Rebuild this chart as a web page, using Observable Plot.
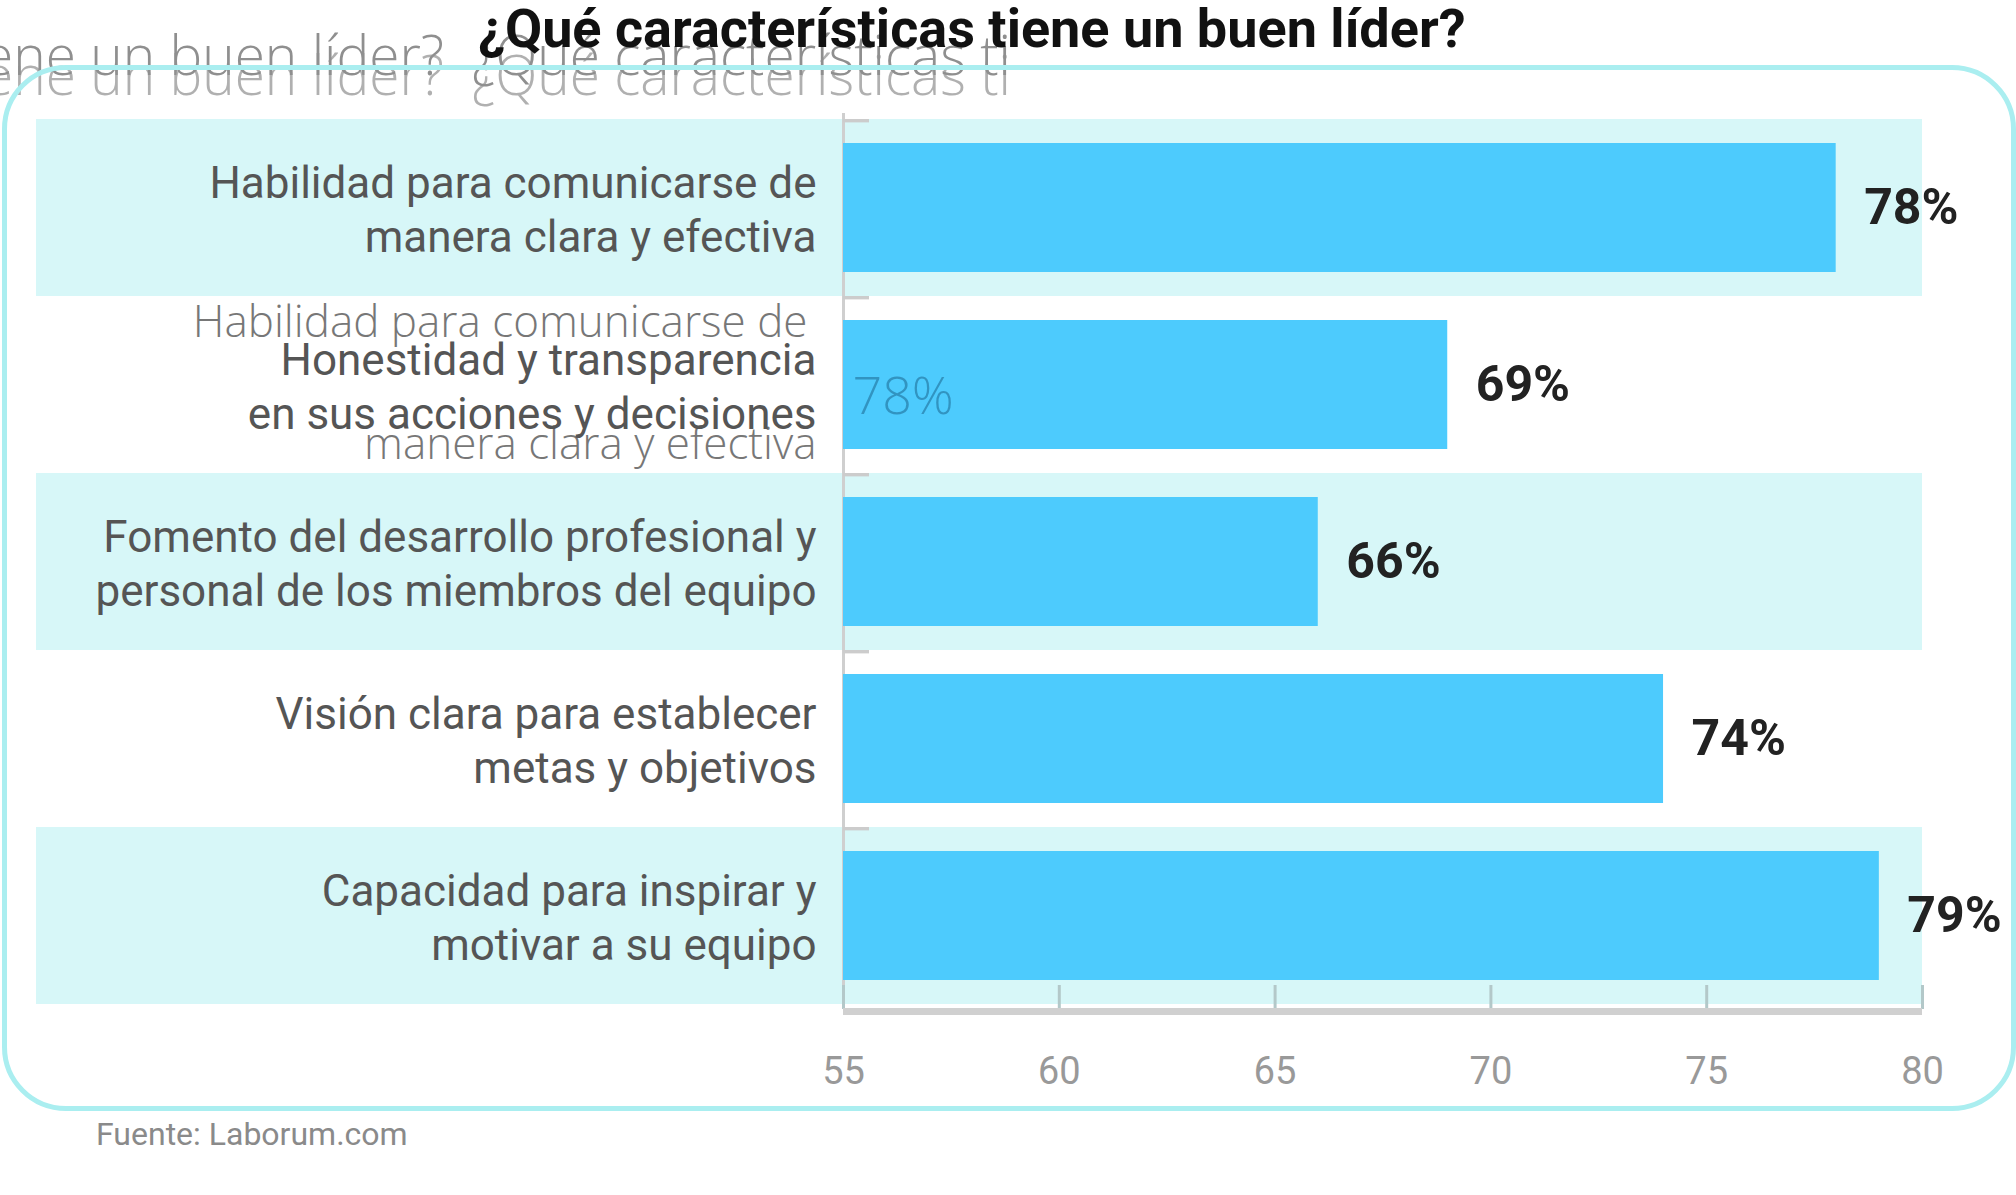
<!DOCTYPE html>
<html>
<head>
<meta charset="utf-8">
<script src="https://cdn.jsdelivr.net/npm/d3@7"></script>
<script src="https://cdn.jsdelivr.net/npm/@observablehq/plot@0.6"></script>
<style>
  html, body { margin: 0; padding: 0; background: #fff; }
  #page { position: relative; width: 2016px; height: 1195px; overflow: hidden; background: #fff; }
  #title { position: absolute; left: 478px; top: 0px; font-family: Roboto, "Open Sans", sans-serif; font-weight: 700; font-size: 54px; line-height: 58px; color: #111; white-space: nowrap; z-index: 3; }
  .ghost { position: absolute; font-family: "Open Sans", sans-serif; font-weight: 300; font-size: 55px; line-height: 60px; color: #8f8f8f; white-space: nowrap; text-shadow: 0 20px 0 rgba(150,150,150,0.75); }
  #ghostclip { position: absolute; left: 0; top: 0; width: 1010px; height: 112px; overflow: hidden; z-index: 1; }
  #frame { position: absolute; left: 2px; top: 65px; width: 2004px; height: 1036px; border: 5px solid #aaeef0; border-radius: 64px; z-index: 2; pointer-events: none; }
  #chart { position: absolute; left: 0; top: 70px; z-index: 0; }
  #source { position: absolute; left: 96px; top: 1115px; font-family: Roboto, sans-serif; font-size: 32px; color: #8a8a8a; }
</style>
</head>
<body>
<div id="page">
  <div id="ghostclip">
    <div class="ghost" id="g1" style="right:566px; top:24px;"></div>
    <div class="ghost" id="g2" style="left:472px; top:24px;"></div>
  </div>
  <div id="title"></div>
  <div id="frame"></div>
  <div id="chart"></div>
  <div id="source"></div>
</div>
<script>
const titleText = "¿Qué características tiene un buen líder?";
const sourceText = "Fuente: Laborum.com";
const categories = [
  "Habilidad para comunicarse de manera clara y efectiva",
  "Honestidad y transparencia en sus acciones y decisiones",
  "Fomento del desarrollo profesional y personal de los miembros del equipo",
  "Visión clara para establecer metas y objetivos",
  "Capacidad para inspirar y motivar a su equipo"
];
const labelLines = [
  "Habilidad para comunicarse de\nmanera clara y efectiva",
  "Honestidad y transparencia\nen sus acciones y decisiones",
  "Fomento del desarrollo profesional y\npersonal de los miembros del equipo",
  "Visión clara para establecer\nmetas y objetivos",
  "Capacidad para inspirar y\nmotivar a su equipo"
];
const values = [78, 69, 66, 74, 79];
const xTicks = [55, 60, 65, 70, 75, 80];
const shaded = [true, false, true, false, true];

document.getElementById("title").textContent = titleText;
document.getElementById("source").textContent = sourceText;
// blurred trailing copy of the title (as in the reference)
document.getElementById("g1").textContent = "tiene un buen líder?";
document.getElementById("g2").textContent = "¿Qué características ti";

const xMin = xTicks[0], xMax = xTicks[xTicks.length - 1];
const data = categories.map((c, i) => ({cat: c, label: labelLines[i], value: values[i], shaded: shaded[i]}));

const W = 2016, H = 1030;
const mT = 47, mB = 91, mL = 843, mR = 94;
const bandBottom = 935;
const frameH = H - mB - mT;
const bandH = (bandBottom - mT) / categories.length;
const labelFont = "Roboto, sans-serif";
const thinFont = "'Open Sans', sans-serif";

// ghost copy of the first row's label drawn over the second row
const ghost = [data[0]].map(d => ({...d, cat: categories[1]}));
const ghostL1 = ghost.map(d => ({...d, t: d.label.split("\n")[0]}));
const ghostL2 = ghost.map(d => ({...d, t: d.label.split("\n")[1]}));

const chart = Plot.plot({
  width: W, height: H,
  marginTop: mT, marginBottom: mB, marginLeft: mL, marginRight: mR,
  style: {fontFamily: "Roboto, sans-serif", background: "transparent", overflow: "visible"},
  x: {domain: [xMin, xMax]},
  y: {domain: categories, range: [mT, bandBottom], padding: 0, axis: null},
  marks: [
    Plot.barX(data.filter(d => d.shaded), {y: "cat", x1: () => xMin, x2: () => xMax, fill: "#d7f7f8", insetLeft: -(mL - 36)}),
    Plot.ruleX([xMin], {stroke: "#cfcfcf", strokeWidth: 3, insetTop: -4}),
    Plot.barX(data, {y: "cat", x1: () => xMin, x2: () => xMin, insetRight: -26, insetBottom: bandH - 4, fill: "#cccccc"}),
    Plot.barX(data, {y: "cat", x1: () => xMin, x2: "value", fill: "#4dcbfd", insetTop: 24, insetBottom: 24}),
    Plot.text(ghostL1, {y: "cat", x: () => xMin, text: "t", dx: -36, dy: -62, textAnchor: "end", fontSize: 44, fontWeight: 300, fontFamily: thinFont, fill: "#777", ariaLabel: "ghost"}),
    Plot.text(ghostL2, {y: "cat", x: () => xMin, text: "t", dx: -27, dy: 60, textAnchor: "end", fontSize: 44, fontWeight: 300, fontFamily: thinFont, fill: "#777", ariaLabel: "ghost"}),
    Plot.text(ghost, {y: "cat", x: () => xMin, text: d => d.value + "%", dx: 9, dy: 12, textAnchor: "start", fontSize: 52, fontWeight: 300, fontFamily: thinFont, fill: "#1f6f99", fillOpacity: 0.6, ariaLabel: "ghost"}),
    Plot.text(data, {y: "cat", x: () => xMin, text: "label", dx: -27, textAnchor: "end", fontSize: 44, lineHeight: 1.23, fontFamily: labelFont, fill: "#555"}),
    Plot.text(data, {y: "cat", x: "value", text: d => d.value + "%", dx: 28, textAnchor: "start", fontSize: 50, fontWeight: 700, fontFamily: labelFont, fill: "#222"}),
    Plot.ruleX(xTicks, {stroke: "#b3c8c9", strokeWidth: 3, insetTop: frameH - 24}),
    Plot.barX([xMin], {x1: () => xMin, x2: () => xMax, insetTop: frameH - 1, insetBottom: -6, fill: "#d0d0d0"}),
    Plot.axisX(xTicks, {tickSize: 0, tickPadding: 48, fontSize: 38, color: "#999", label: null, tickFormat: d => String(d), fontFamily: labelFont})
  ]
});
d3.select(chart).selectAll('g[aria-label="ghost"]').style("filter", "drop-shadow(0px 28px 0px rgba(140,140,140,0.7))");
document.getElementById("chart").appendChild(chart);
</script>
</body>
</html>
